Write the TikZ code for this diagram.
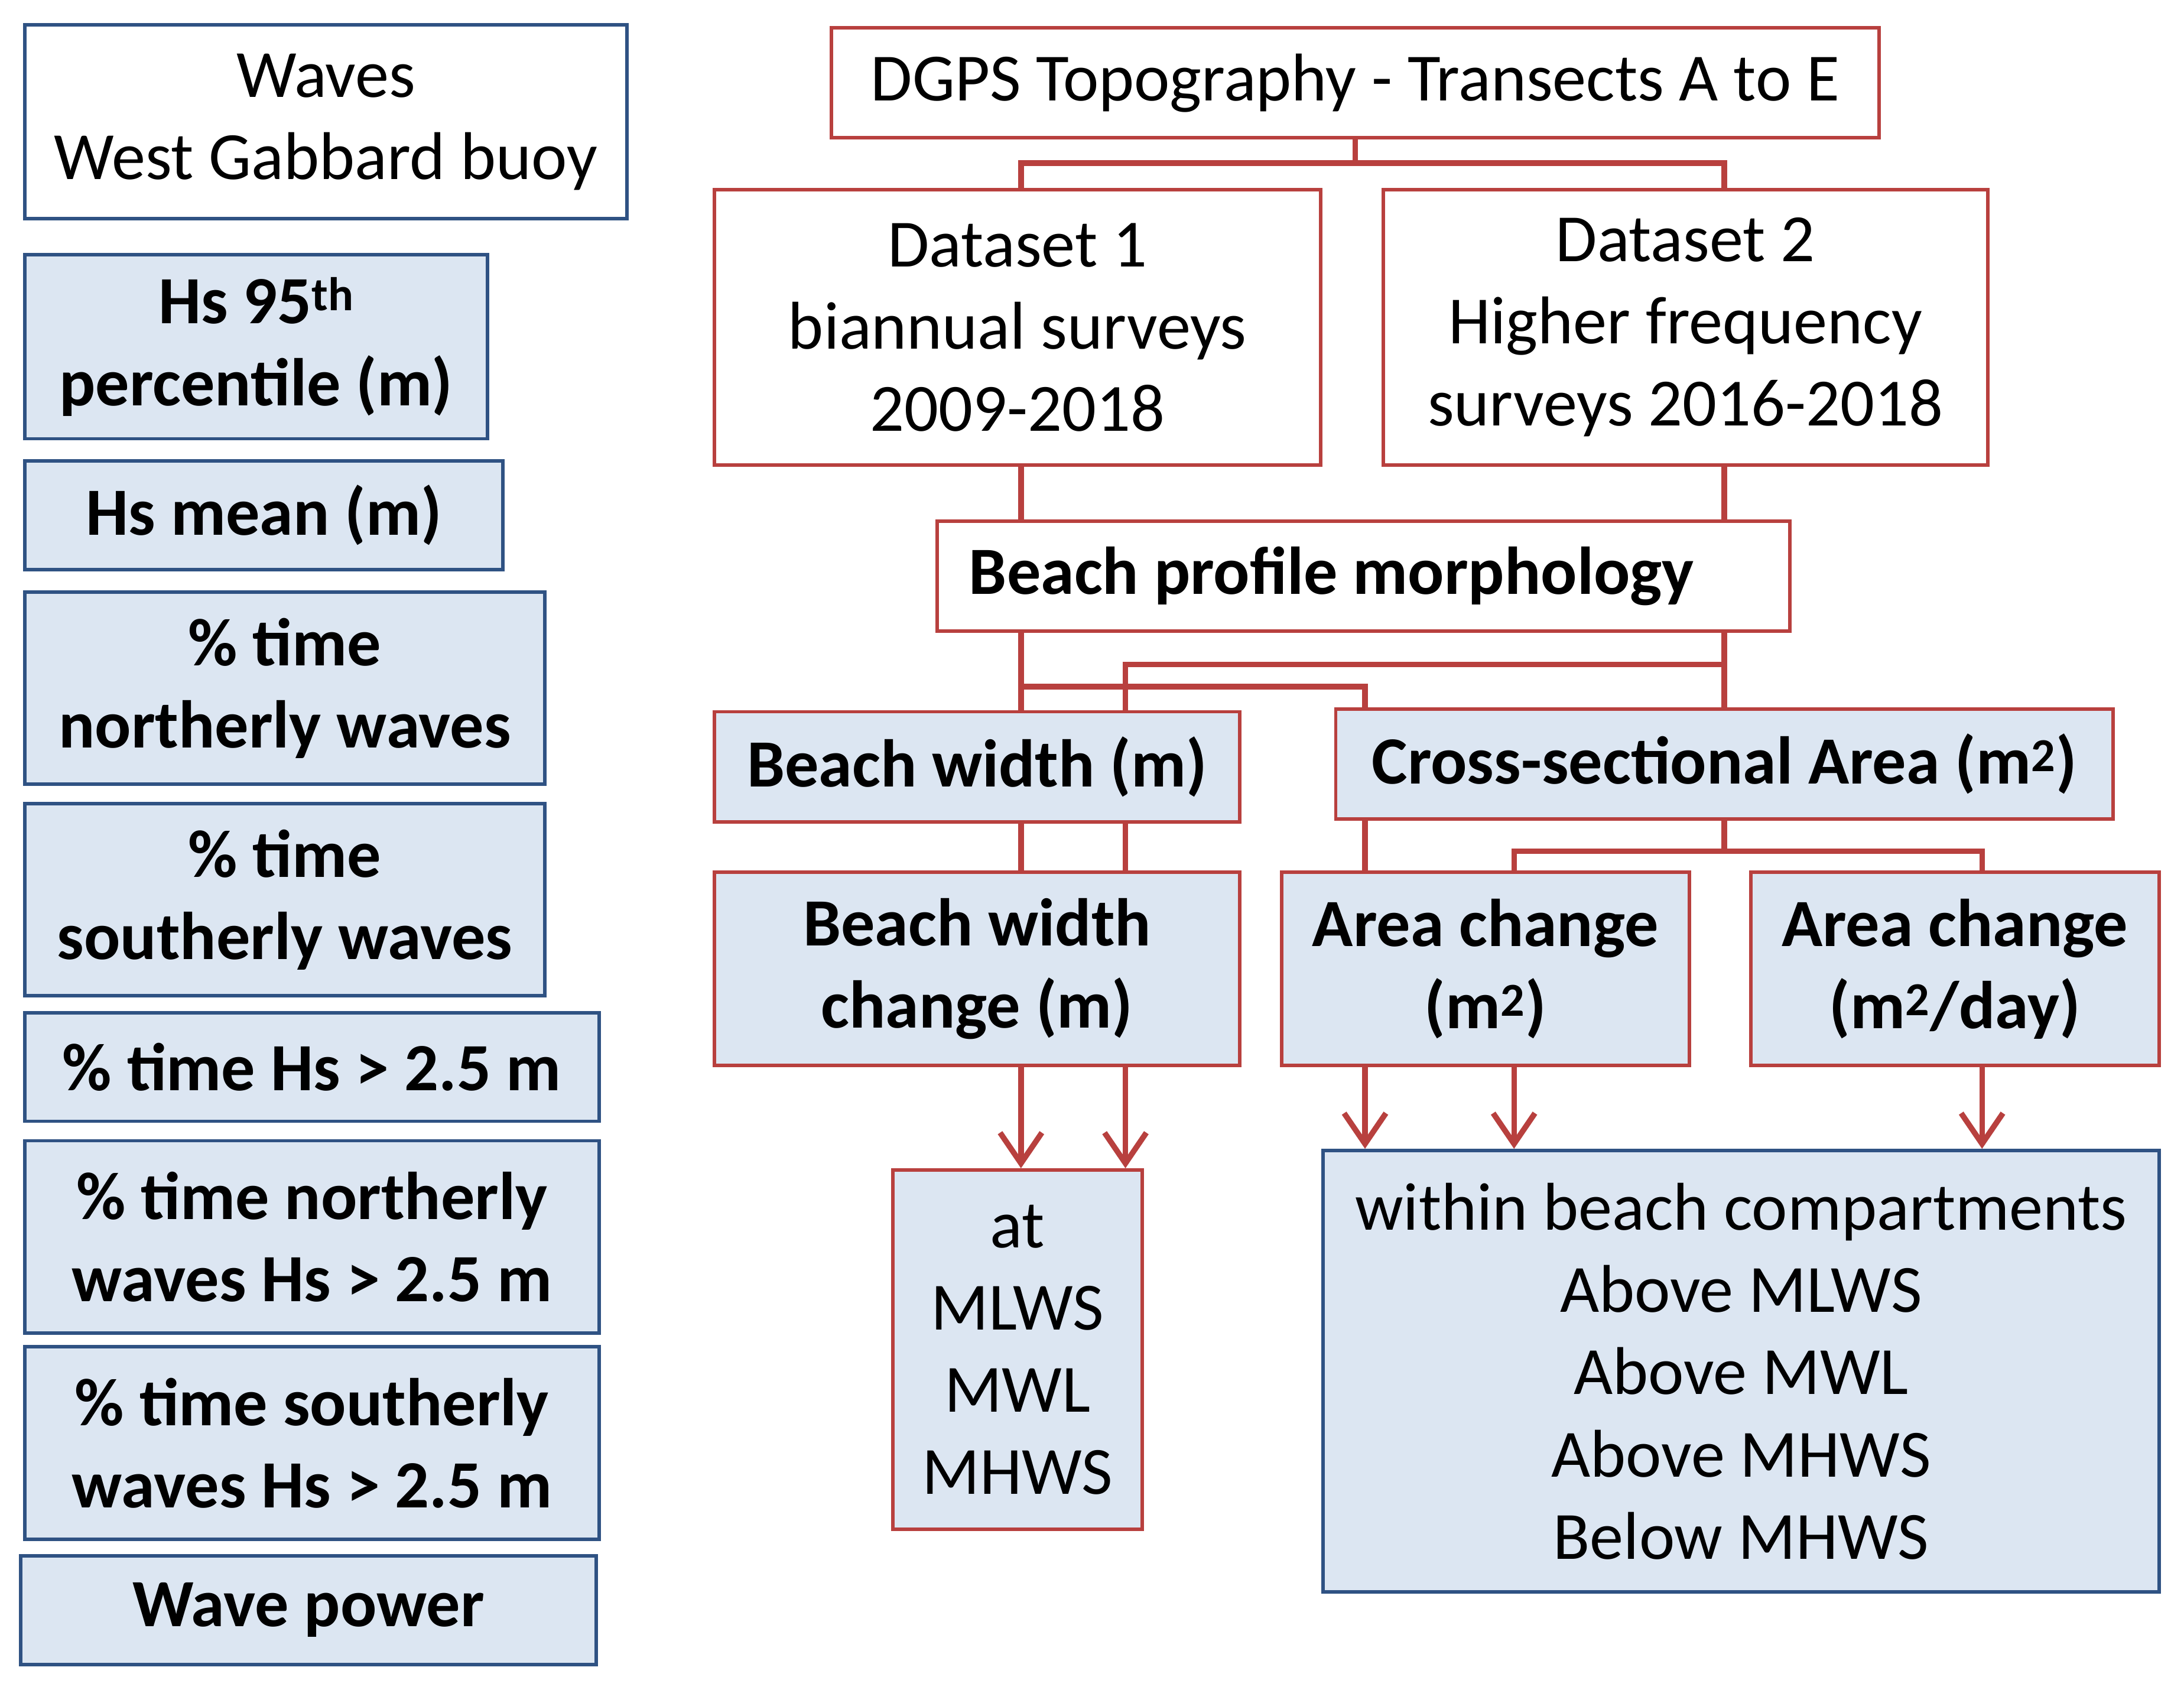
\documentclass[tikz,border=0pt]{standalone}
\usepackage{fontspec}
\setmainfont{Carlito}
\usetikzlibrary{arrows.meta}
\definecolor{bfill}{HTML}{DCE6F2}
\definecolor{bline}{HTML}{2F5283}
\definecolor{rline}{HTML}{B8403E}
\tikzset{
  bx/.style={draw, line width=2.5pt, inner sep=0pt, align=center,
    font=\fontsize{48.5}{59}\selectfont},
  wb/.style={bx, draw=bline, fill=white},
  bb/.style={bx, draw=bline, fill=bfill, font=\fontsize{48.5}{59}\selectfont\bfseries},
  rw/.style={bx, draw=rline, fill=white},
  rb/.style={bx, draw=rline, fill=bfill, font=\fontsize{48.5}{59}\selectfont\bfseries},
  con/.style={draw=rline, line width=4pt},
  arr/.style={con, -{Straight Barb[length=22pt,width=30pt,line width=4pt]}}
}
\newcommand{\bxat}[6]{\node[#1, minimum width={#4-#2}, minimum height={#5-#3}] (#6) at ({(#2+#4)/2},{(#3+#5)/2})}
\begin{document}
\begin{tikzpicture}[x=1pt,y=-1pt]
\useasboundingbox[fill=white] (0,0) rectangle (1568,1213);
% left column
\bxat{wb}{18}{18}{450}{157}{waves} {Waves\\West Gabbard buoy};
\bxat{bb}{18}{183}{350}{315}{hs95} {Hs 95\textsuperscript{th}\\percentile (m)};
\bxat{bb}{18}{331}{361}{409}{hsm} {Hs mean (m)};
\bxat{bb}{18}{425}{391}{563}{tn} {\% time\\northerly waves};
\bxat{bb}{18}{577}{391}{715}{ts} {\% time\\southerly waves};
\bxat{bb}{18}{727}{430}{805}{th} {\% time Hs > 2.5 m};
\bxat{bb}{18}{819}{430}{957}{tnh} {\% time northerly\\waves Hs > 2.5 m};
\bxat{bb}{18}{967}{430}{1105}{tsh} {\% time southerly\\waves Hs > 2.5 m};
\bxat{bb}{15}{1117}{428}{1195}{wp} {Wave power};
% right
\bxat{rw}{597}{20}{1349}{99}{dgps} {DGPS Topography - Transects A to E};
\bxat{rw}{513}{136}{948}{334}{d1} {Dataset 1\\biannual surveys\\2009-2018};
\bxat{rw}{993}{136}{1427}{334}{d2} {Dataset 2\\Higher frequency\\surveys 2016-2018};
\bxat{rw}{673}{374}{1285}{453}{bpm} {\bfseries Beach profile morphology\hspace*{46pt}};
\bxat{rb}{513}{511}{890}{590}{bw} {Beach width (m)};
\bxat{rb}{959}{509}{1517}{588}{csa} {Cross-sectional Area (m\textsuperscript{2})};
\bxat{rb}{513}{626}{890}{765}{bwc} {Beach width\\change (m)};
\bxat{rb}{920}{626}{1213}{765}{ac} {Area change\\(m\textsuperscript{2})};
\bxat{rb}{1257}{626}{1550}{765}{acd} {Area change\\(m\textsuperscript{2}/day)};
\bxat{bx,draw=rline,fill=bfill}{641}{840}{820}{1098}{at} {at\\MLWS\\MWL\\MHWS};
\bxat{bx,draw=bline,fill=bfill}{950}{826}{1550}{1143}{wbc} {within beach compartments\\Above MLWS\\Above MWL\\Above MHWS\\Below MHWS};
% x positions
\coordinate (xa) at (733,0);
\coordinate (xb) at (808,0);
\coordinate (xc) at (980,0);
\coordinate (xd) at (1087,0);
\coordinate (xe) at (1238,0);
\coordinate (xf) at (1423,0);
\coordinate (ya) at (0,117);
\coordinate (yb) at (0,477);
\coordinate (yc) at (0,493);
\coordinate (yd) at (0,611);
% connectors
\draw[con] (dgps.south) -- (dgps.south |- ya);
\draw[con] (d1.north -| xa) -- (xa |- ya) -- (xe |- ya) -- (d2.north -| xe);
\draw[con] (d1.south -| xa) -- (bpm.north -| xa);
\draw[con] (d2.south -| xe) -- (bpm.north -| xe);
\draw[con] (bpm.south -| xa) -- (bw.north -| xa);
\draw[con] (bpm.south -| xe) -- (csa.north -| xe);
\draw[con] (xa |- yc) -- (xc |- yc) -- (csa.north -| xc);
\draw[con] (xe |- yb) -- (xb |- yb) -- (bw.north -| xb);
\draw[con] (bw.south -| xa) -- (bwc.north -| xa);
\draw[con] (bw.south -| xb) -- (bwc.north -| xb);
\draw[con] (csa.south -| xc) -- (ac.north -| xc);
\draw[con] (csa.south -| xe) -- (xe |- yd);
\draw[con] (ac.north -| xd) -- (xd |- yd) -- (xf |- yd) -- (acd.north -| xf);
\draw[arr] (bwc.south -| xa) -- (at.north -| xa);
\draw[arr] (bwc.south -| xb) -- (at.north -| xb);
\draw[arr] (ac.south -| xc) -- (wbc.north -| xc);
\draw[arr] (ac.south -| xd) -- (wbc.north -| xd);
\draw[arr] (acd.south -| xf) -- (wbc.north -| xf);
\end{tikzpicture}
\end{document}
